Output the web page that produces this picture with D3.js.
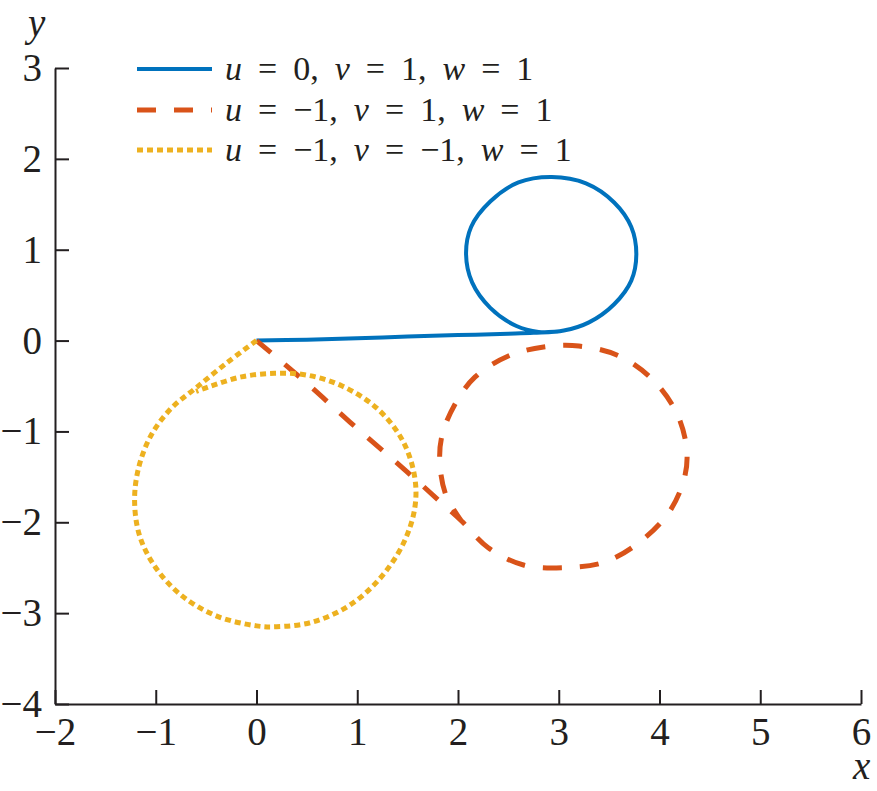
<!DOCTYPE html>
<html>
<head>
<meta charset="utf-8">
<script src="https://cdn.jsdelivr.net/npm/d3@7"></script>
</head>
<body style="margin:0">
<div id="chart"></div>
<script>
// Trajectory points, [x, y]
const curveA = [ // u = 0, v = 1, w = 1
  [0, 0], [0.5, 0.01], [1.0, 0.025], [1.5, 0.045], [2.0, 0.06], [2.5, 0.075], [2.75, 0.085],
  [3.05, 0.11], [3.3, 0.2], [3.55, 0.4], [3.72, 0.66], [3.77, 0.95], [3.72, 1.25],
  [3.55, 1.52], [3.27, 1.73], [2.93, 1.80], [2.6, 1.74], [2.32, 1.53], [2.13, 1.25],
  [2.08, 0.95], [2.14, 0.64], [2.32, 0.36], [2.58, 0.16], [2.8, 0.095], [3.0, 0.1]
];
const curveB = [ // u = -1, v = 1, w = 1
  [0, 0], [0.5, -0.47], [0.93, -0.9], [1.5, -1.45], [1.83, -1.78], [2.03, -1.98],
  [2.3, -2.28], [2.65, -2.47], [3.05, -2.5], [3.45, -2.44], [3.8, -2.22], [4.1, -1.88],
  [4.25, -1.5], [4.27, -1.2], [4.18, -0.82], [3.95, -0.45], [3.6, -0.17], [3.2, -0.06],
  [2.85, -0.07], [2.5, -0.17], [2.17, -0.4], [1.97, -0.7], [1.84, -1.05], [1.82, -1.35],
  [1.88, -1.7], [2.03, -1.98]
];
const curveC = [ // u = -1, v = -1, w = 1
  [0, 0], [-0.3, -0.25], [-0.6, -0.52], [-0.85, -0.75], [-1.05, -1.05], [-1.17, -1.4],
  [-1.21, -1.76], [-1.16, -2.15], [-1.0, -2.5], [-0.75, -2.8], [-0.4, -3.03], [0.0, -3.14],
  [0.2, -3.15], [0.55, -3.1], [0.9, -2.93], [1.2, -2.65], [1.45, -2.25], [1.57, -1.85],
  [1.57, -1.5], [1.45, -1.1], [1.2, -0.75], [0.85, -0.5], [0.5, -0.38], [0.18, -0.36],
  [-0.15, -0.4], [-0.45, -0.5], [-0.6, -0.56]
];

const xTicks = [-2, -1, 0, 1, 2, 3, 4, 5, 6];
const yTicks = [-4, -3, -2, -1, 0, 1, 2, 3];

// Legend labels: [u, v, w]
const legendParams = [['0', '1', '1'], ['\u22121', '1', '1'], ['\u22121', '\u22121', '1']];

const width = 877, height = 791;
const serif = '"Liberation Serif", serif';
const ink = '#231f20';

const series = [
  { data: curveA, color: '#0072bd', dash: null, w: 4 },
  { data: curveB, color: '#d95319', dash: '19,18', w: 5 },
  { data: curveC, color: '#edb120', dash: '6,4', w: 5 }
];

const svg = d3.select('#chart').append('svg')
  .attr('width', width)
  .attr('height', height);

const x = d3.scaleLinear().domain([-2, 6]).range([55, 861]);
const y = d3.scaleLinear().domain([-4, 3]).range([704, 68]);

const fmt = d => d < 0 ? '\u2212' + Math.abs(d) : String(d);

// Axes: inward ticks
const xAxis = svg.append('g')
  .attr('transform', `translate(0,${y(-4)})`)
  .call(d3.axisBottom(x).tickValues(xTicks).tickSizeInner(-14).tickSizeOuter(0).tickPadding(13).tickFormat(fmt));

const yAxis = svg.append('g')
  .attr('transform', `translate(${x(-2)},0)`)
  .call(d3.axisLeft(y).tickValues(yTicks).tickSizeInner(-14).tickSizeOuter(0).tickPadding(13).tickFormat(fmt));

[xAxis, yAxis].forEach(g => {
  g.attr('font-family', null).attr('font-size', null);
  g.selectAll('path, line').attr('stroke', ink).attr('stroke-width', 2);
  g.selectAll('text')
    .style('font-family', serif)
    .attr('font-size', 39)
    .attr('fill', ink);
});

// Axis titles
svg.append('text')
  .attr('x', 28).attr('y', 36)
  .style('font-family', serif).attr('font-size', 39).style('font-style', 'italic').attr('fill', ink)
  .text('y');

svg.append('text')
  .attr('x', 853).attr('y', 779)
  .style('font-family', serif).attr('font-size', 39).style('font-style', 'italic').attr('fill', ink)
  .text('x');

// Curves
const line = d3.line()
  .x(d => x(d[0]))
  .y(d => y(d[1]))
  .curve(d3.curveCatmullRom.alpha(0.5));

series.forEach(s => {
  svg.append('path')
    .datum(s.data)
    .attr('fill', 'none')
    .attr('stroke', s.color)
    .attr('stroke-width', s.w)
    .attr('stroke-dasharray', s.dash)
    .attr('d', line);
});

// Legend
const legend = svg.append('g').attr('class', 'legend');
const rowY = [69, 110, 150];

series.forEach((s, i) => {
  legend.append('line')
    .attr('x1', 137).attr('x2', 212)
    .attr('y1', rowY[i]).attr('y2', rowY[i])
    .attr('stroke', s.color)
    .attr('stroke-width', s.w)
    .attr('stroke-dasharray', s.dash);

  const p = legendParams[i];
  const t = legend.append('text')
    .attr('x', 225).attr('y', rowY[i] + 11)
    .style('font-family', serif)
    .attr('font-size', 34)
    .style('word-spacing', '7.5px')
    .attr('fill', ink);
  t.append('tspan').style('font-style', 'italic').text('u');
  t.append('tspan').text(` = ${p[0]}, `);
  t.append('tspan').style('font-style', 'italic').text('v');
  t.append('tspan').text(` = ${p[1]}, `);
  t.append('tspan').style('font-style', 'italic').text('w');
  t.append('tspan').text(` = ${p[2]}`);
});
</script>
</body>
</html>
